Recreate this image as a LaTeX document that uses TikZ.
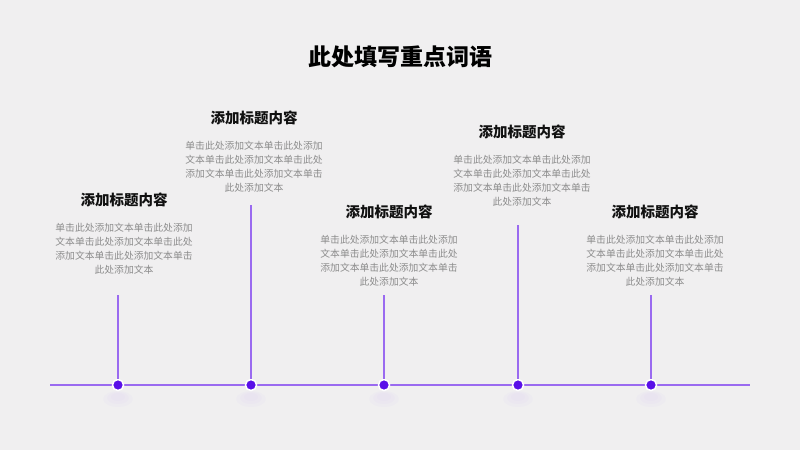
\documentclass[tikz,border=0pt]{standalone}
\usepackage{fontspec}
\newfontfamily\cjk{Noto Sans CJK SC}
\definecolor{bg}{HTML}{F0EFF0}
\definecolor{lineP}{HTML}{9A6AF0}
\definecolor{dotP}{HTML}{5A10E8}
\definecolor{bodyG}{HTML}{8C8C8C}
\definecolor{headK}{HTML}{111111}
\tikzset{
  dotnode/.style={circle,fill=dotP,draw=white,line width=1.5pt,minimum size=11pt,inner sep=0pt},
  conn/.style={draw=lineP,line width=1.2pt},
  head/.style={font=\cjk\bfseries\fontsize{14.5pt}{16pt}\selectfont,text=headK,inner sep=0pt,anchor=center},
  body/.style={font=\cjk\fontsize{9.8pt}{14pt}\selectfont,text=bodyG,align=center,inner sep=0pt,anchor=north},
  glow/.style={fill=lineP,opacity=0.025}
}
\begin{document}
\begin{tikzpicture}[x=1pt,y=-1pt]
\fill[bg] (0,0) rectangle (800,450);
\useasboundingbox (0,0) rectangle (800,450);
\node[font=\cjk\bfseries\fontsize{23pt}{26pt}\selectfont,text=black,inner sep=0pt] (title) at (400,57) {此处填写重点词语};
% glows
\foreach \x in {118,251,384,518,651}{
  \fill[glow] (\x,399) ellipse (15 and 8);
  \fill[glow] (\x,398) ellipse (11 and 6);
  \fill[glow] (\x,397) ellipse (7 and 4);
}
\coordinate (L) at (50,385);
\coordinate (R) at (750,385);
\draw[conn] (L) -- (R);
\coordinate (t1) at (118,295);
\coordinate (t2) at (251,205);
\coordinate (t3) at (384,295);
\coordinate (t4) at (518,225);
\coordinate (t5) at (651,295);
\node[dotnode] (d1) at (118,385) {};
\node[dotnode] (d2) at (251,385) {};
\node[dotnode] (d3) at (384,385) {};
\node[dotnode] (d4) at (518,385) {};
\node[dotnode] (d5) at (651,385) {};
\draw[conn] (t1) -- (d1);
\draw[conn] (t2) -- (d2);
\draw[conn] (t3) -- (d3);
\draw[conn] (t4) -- (d4);
\draw[conn] (t5) -- (d5);
% texts
\node[head] (h1) at (124,200) {添加标题内容};
\node[body] (b1) at (124,222.5) {单击此处添加文本单击此处添加\\文本单击此处添加文本单击此处\\添加文本单击此处添加文本单击\\此处添加文本};
\node[head] (h2) at (254,118) {添加标题内容};
\node[body] (b2) at (254,140.5) {单击此处添加文本单击此处添加\\文本单击此处添加文本单击此处\\添加文本单击此处添加文本单击\\此处添加文本};
\node[head] (h3) at (389,212) {添加标题内容};
\node[body] (b3) at (389,234.5) {单击此处添加文本单击此处添加\\文本单击此处添加文本单击此处\\添加文本单击此处添加文本单击\\此处添加文本};
\node[head] (h4) at (522,132) {添加标题内容};
\node[body] (b4) at (522,154.5) {单击此处添加文本单击此处添加\\文本单击此处添加文本单击此处\\添加文本单击此处添加文本单击\\此处添加文本};
\node[head] (h5) at (655,212) {添加标题内容};
\node[body] (b5) at (655,234.5) {单击此处添加文本单击此处添加\\文本单击此处添加文本单击此处\\添加文本单击此处添加文本单击\\此处添加文本};
\end{tikzpicture}
\end{document}
